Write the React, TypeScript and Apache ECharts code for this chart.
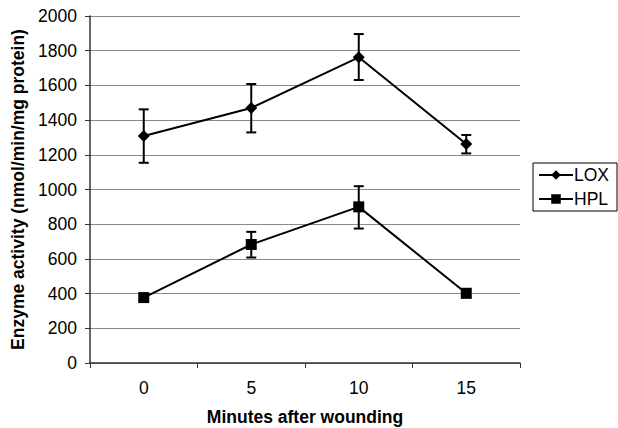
import React, { useEffect, useRef } from "react";
import * as echarts from "echarts";

const categories = ["0", "5", "10", "15"];
const loxValues = [1308, 1470, 1762, 1262];
const loxLow = [1154, 1329, 1631, 1208];
const loxHigh = [1462, 1608, 1896, 1314];
const hplValues = [377, 683, 900, 402];
const hplLow = [365, 608, 775, 378];
const hplHigh = [389, 756, 1019, 426];
const yTicks = { min: 0, max: 2000, interval: 200 };

const FONT = "'Liberation Sans', Arial, sans-serif";

function errorSeries(name: string, low: number[], high: number[]) {
  return {
    type: "custom",
    name: name + "-err",
    silent: true,
    z: 3,
    data: low.map((l, i) => [i, l, high[i]]),
    renderItem: (params: any, api: any) => {
      const x = api.value(0);
      const lo = api.coord([x, api.value(1)]);
      const hi = api.coord([x, api.value(2)]);
      const w = 5;
      const style = { stroke: "#000", lineWidth: 2 };
      return {
        type: "group",
        children: [
          { type: "line", shape: { x1: lo[0], y1: lo[1], x2: hi[0], y2: hi[1] }, style },
          { type: "line", shape: { x1: lo[0] - w, y1: lo[1], x2: lo[0] + w, y2: lo[1] }, style },
          { type: "line", shape: { x1: hi[0] - w, y1: hi[1], x2: hi[0] + w, y2: hi[1] }, style },
        ],
      };
    },
  };
}

export default function App() {
  const ref = useRef<HTMLDivElement>(null);
  useEffect(() => {
    if (!ref.current) return;
    const chart = echarts.init(ref.current, undefined, { renderer: "svg" });
    chart.setOption({
      animation: false,
      backgroundColor: "#fff",
      textStyle: { fontFamily: FONT },
      grid: { left: 90, right: 98, top: 16, bottom: 65, containLabel: false, outerBoundsMode: "none" },
      legend: {
        orient: "vertical",
        left: 533,
        top: 163,
        itemWidth: 34,
        itemHeight: 12,
        itemGap: 6,
        padding: [3, 8, 3, 5],
        borderColor: "#000",
        borderWidth: 1,
        borderRadius: 0,
        textStyle: { fontFamily: FONT, fontSize: 17.5, color: "#000", padding: [0, 0, 0, -4] },
        data: ["LOX", "HPL"],
      },
      xAxis: {
        type: "category",
        data: categories,
        boundaryGap: true,
        name: "Minutes after wounding",
        nameLocation: "middle",
        nameGap: 45,
        nameTextStyle: { fontFamily: FONT, fontSize: 17.5, fontWeight: "bold", color: "#000", lineHeight: 18 },
        axisLine: { lineStyle: { color: "#333", width: 1.5 } },
        axisTick: { show: true, alignWithLabel: false, length: 5, lineStyle: { color: "#333" } },
        axisLabel: { fontFamily: FONT, fontSize: 17.5, color: "#000", margin: 16 },
      },
      yAxis: {
        type: "value",
        min: yTicks.min,
        max: yTicks.max,
        interval: yTicks.interval,
        name: "Enzyme activity (nmol/min/mg protein)",
        nameLocation: "middle",
        nameGap: 58,
        nameTextStyle: { fontFamily: FONT, fontSize: 17.5, fontWeight: "bold", color: "#000" },
        axisLine: { show: true, lineStyle: { color: "#333", width: 1.5 } },
        axisTick: { show: true, length: 5, lineStyle: { color: "#333" } },
        axisLabel: { fontFamily: FONT, fontSize: 17.5, color: "#000", margin: 13, formatter: (v: number) => String(v) },
        splitLine: { lineStyle: { color: "#8a8a8a", width: 1 } },
      },
      series: [
        errorSeries("LOX", loxLow, loxHigh),
        errorSeries("HPL", hplLow, hplHigh),
        {
          type: "line",
          name: "LOX",
          data: loxValues,
          symbol: "diamond",
          symbolSize: 12,
          lineStyle: { color: "#000", width: 2 },
          itemStyle: { color: "#000" },
          z: 4,
        },
        {
          type: "line",
          name: "HPL",
          data: hplValues,
          symbol: "rect",
          symbolSize: 11,
          lineStyle: { color: "#000", width: 2 },
          itemStyle: { color: "#000" },
          z: 4,
        },
      ],
    });
    return () => chart.dispose();
  }, []);
  return <div ref={ref} style={{ width: 618, height: 428, position: "absolute", left: 0, top: 0 }} />;
}
